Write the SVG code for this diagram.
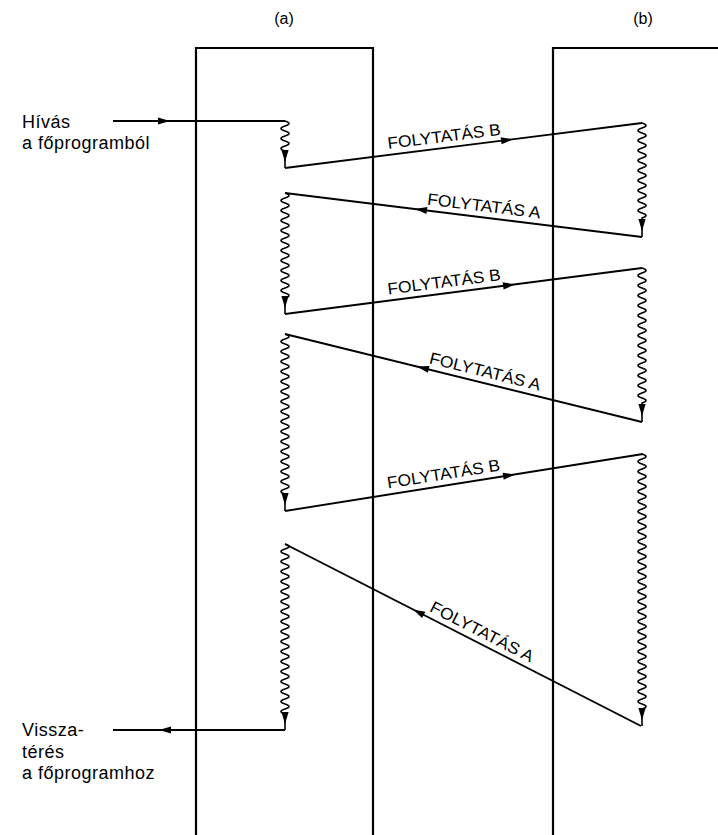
<svg xmlns="http://www.w3.org/2000/svg" xmlns:xlink="http://www.w3.org/1999/xlink" width="718" height="835" viewBox="0 0 718 835">
  <style>
    .frame { fill: none; stroke: #000; stroke-width: 2.2; }
    .link { fill: none; stroke: #000; stroke-width: 1.9; }
    .wave { fill: none; stroke: #000; stroke-width: 1.6; }
    .head { fill: #000; stroke: none; }
    .lbl { font-family: "Liberation Sans", Arial, sans-serif; font-size: 18px; letter-spacing: 0.5px; fill: #000; }
    .tag { font-family: "Liberation Sans", Arial, sans-serif; font-size: 16px; fill: #000; text-anchor: middle; }
    .cap { font-family: "Liberation Sans", Arial, sans-serif; font-size: 16.5px; fill: #000; }
  </style>
  <defs>
    <!-- filled arrowhead, tip at the origin, pointing along +x -->
    <path id="ah" class="head" d="M0,0 L-12,-3.6 L-12,3.6 Z"/>
  </defs>

  <rect width="718" height="835" fill="#fff"/>

  <!-- coroutine (a) -->
  <g id="coroutine-a">
    <path class="frame" d="M196,835 V48 H373 V835"/>
    <text class="tag" x="284" y="23.5">(a)</text>
  </g>

  <!-- coroutine (b) -->
  <g id="coroutine-b">
    <path class="frame" d="M553,835 V48 H718"/>
    <text class="tag" x="643" y="23.5">(b)</text>
  </g>

  <!-- caller labels -->
  <g id="call-in">
    <text class="lbl" x="22" y="128">Hívás</text>
    <text class="lbl" x="22" y="149">a főprogramból</text>
  </g>
  <g id="call-out">
    <text class="lbl" x="22" y="736">Vissza-</text>
    <text class="lbl" x="22" y="758">térés</text>
    <text class="lbl" x="22" y="779">a főprogramhoz</text>
  </g>

  <g id="connectors">
    <!-- entry from main program -->
    <path class="link" d="M113,121 H285"/>
    <use xlink:href="#ah" transform="translate(170,121)"/>

    <!-- execution runs in (a) and (b) -->
    <path class="wave" d="M285,121 q8,2.5 0,5 t0,5 t0,5 t0,5 t0,5 t0,5 L285,168"/>
    <use xlink:href="#ah" transform="translate(285,162) rotate(90)"/>

    <path class="wave" d="M642,123 q8,2.5 0,5 t0,5 t0,5 t0,5 t0,5 t0,5 t0,5 t0,5 t0,5 t0,5 t0,5 t0,5 t0,5 t0,5 t0,5 t0,5 t0,5 t0,5 t0,5 L642,237"/>
    <use xlink:href="#ah" transform="translate(642,231) rotate(90)"/>

    <path class="wave" d="M285,193 q8,2.5 0,5 t0,5 t0,5 t0,5 t0,5 t0,5 t0,5 t0,5 t0,5 t0,5 t0,5 t0,5 t0,5 t0,5 t0,5 t0,5 t0,5 t0,5 t0,5 t0,5 t0,5 L285,314"/>
    <use xlink:href="#ah" transform="translate(285,308) rotate(90)"/>

    <path class="wave" d="M642,268 q8,2.5 0,5 t0,5 t0,5 t0,5 t0,5 t0,5 t0,5 t0,5 t0,5 t0,5 t0,5 t0,5 t0,5 t0,5 t0,5 t0,5 t0,5 t0,5 t0,5 t0,5 t0,5 t0,5 t0,5 t0,5 t0,5 t0,5 t0,5 L642,422"/>
    <use xlink:href="#ah" transform="translate(642,416) rotate(90)"/>

    <path class="wave" d="M285,334 q8,2.5 0,5 t0,5 t0,5 t0,5 t0,5 t0,5 t0,5 t0,5 t0,5 t0,5 t0,5 t0,5 t0,5 t0,5 t0,5 t0,5 t0,5 t0,5 t0,5 t0,5 t0,5 t0,5 t0,5 t0,5 t0,5 t0,5 t0,5 t0,5 t0,5 t0,5 t0,5 t0,5 L285,511"/>
    <use xlink:href="#ah" transform="translate(285,505) rotate(90)"/>

    <path class="wave" d="M642,454 q8,2.5 0,5 t0,5 t0,5 t0,5 t0,5 t0,5 t0,5 t0,5 t0,5 t0,5 t0,5 t0,5 t0,5 t0,5 t0,5 t0,5 t0,5 t0,5 t0,5 t0,5 t0,5 t0,5 t0,5 t0,5 t0,5 t0,5 t0,5 t0,5 t0,5 t0,5 t0,5 t0,5 t0,5 t0,5 t0,5 t0,5 t0,5 t0,5 t0,5 t0,5 t0,5 t0,5 t0,5 t0,5 t0,5 t0,5 t0,5 t0,5 t0,5 t0,5 t0,5 L642,726"/>
    <use xlink:href="#ah" transform="translate(642,720) rotate(90)"/>

    <path class="wave" d="M285,544 q8,2.5 0,5 t0,5 t0,5 t0,5 t0,5 t0,5 t0,5 t0,5 t0,5 t0,5 t0,5 t0,5 t0,5 t0,5 t0,5 t0,5 t0,5 t0,5 t0,5 t0,5 t0,5 t0,5 t0,5 t0,5 t0,5 t0,5 t0,5 t0,5 t0,5 t0,5 t0,5 t0,5 t0,5 t0,5 L285,730"/>
    <use xlink:href="#ah" transform="translate(285,724) rotate(90)"/>

    <!-- transfers (a) -> (b): FOLYTATÁS B -->
    <path class="link" d="M285,168 L642,123"/>
    <use xlink:href="#ah" transform="translate(513,139.3) rotate(-7.18)"/>
    <text class="cap" transform="translate(389,154.9) rotate(-7.18)" y="-6" textLength="114" lengthAdjust="spacingAndGlyphs">FOLYTATÁS B</text>

    <path class="link" d="M285,314 L642,268"/>
    <use xlink:href="#ah" transform="translate(515,284.4) rotate(-7.34)"/>
    <text class="cap" transform="translate(389,300.6) rotate(-7.34)" y="-6" textLength="114" lengthAdjust="spacingAndGlyphs">FOLYTATÁS B</text>

    <path class="link" d="M285,511 L643,454"/>
    <use xlink:href="#ah" transform="translate(515,474.4) rotate(-9.05)"/>
    <text class="cap" transform="translate(389,494.4) rotate(-9.05)" y="-6" textLength="114" lengthAdjust="spacingAndGlyphs">FOLYTATÁS B</text>

    <!-- transfers (b) -> (a): FOLYTATÁS A -->
    <path class="link" d="M642,237 L285,193"/>
    <use xlink:href="#ah" transform="translate(415,209) rotate(187.03)"/>
    <text class="cap" transform="translate(426,210.4) rotate(7.03)" y="-6" textLength="114" lengthAdjust="spacingAndGlyphs">FOLYTATÁS A</text>

    <path class="link" d="M642,422 L285,334"/>
    <use xlink:href="#ah" transform="translate(417,366.5) rotate(193.85)"/>
    <text class="cap" transform="translate(427,369) rotate(13.85)" y="-6" textLength="114" lengthAdjust="spacingAndGlyphs">FOLYTATÁS A</text>

    <path class="link" d="M641,726 L285,544"/>
    <use xlink:href="#ah" transform="translate(413,609.4) rotate(207.07)"/>
    <text class="cap" transform="translate(426,616.1) rotate(27.07)" y="-6" textLength="114" lengthAdjust="spacingAndGlyphs">FOLYTATÁS A</text>

    <!-- return to main program -->
    <path class="link" d="M285,730 H113"/>
    <use xlink:href="#ah" transform="translate(159,730) rotate(180)"/>
  </g>
</svg>
